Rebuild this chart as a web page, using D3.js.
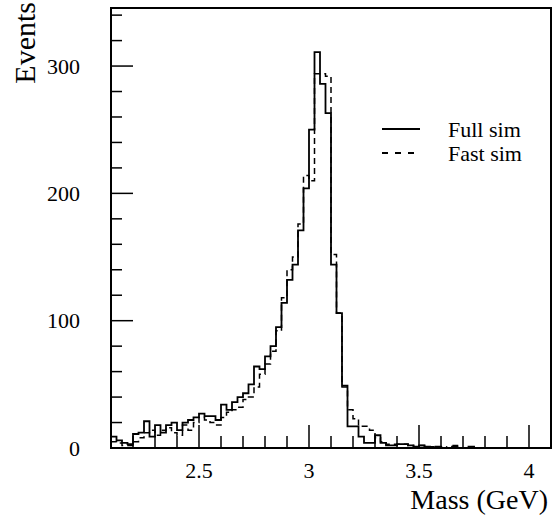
<!DOCTYPE html>
<html>
<head>
<meta charset="utf-8">
<script src="https://cdn.jsdelivr.net/npm/d3@7"></script>
<style>
  body { margin: 0; background: #fff; }
  text { font-family: "Liberation Serif", "Times New Roman", serif; fill: #000; }
</style>
</head>
<body>
<div id="chart"></div>
<script>
// histogram: 80 bins of 0.025 GeV from 2.1 to 4.1
var binStart = 2.1, binWidth = 0.025;

var fullSim = [9, 6, 4, 3, 11, 12, 21, 9, 18, 12,
               18, 20, 14, 20, 22, 24, 27, 25, 25, 22,
               34, 30, 36, 40, 43, 50, 64, 62, 72, 80,
               95, 114, 132, 144, 171, 204, 250, 311, 286, 263,
               144, 106, 49, 17, 17, 9, 4, 4, 10, 4,
               2, 2, 3, 3, 2, 1, 2, 1, 0, 1,
               0, 0, 1, 0, 0, 1, 0, 0, 0, 0,
               0, 0, 0, 0, 0, 0, 0, 0, 0, 0];

var fastSim = [5, 4, 2, 2, 5, 8, 12, 14, 10, 14,
               16, 12, 10, 18, 14, 20, 24, 22, 20, 18,
               24, 28, 30, 32, 38, 40, 48, 58, 66, 76,
               92, 118, 140, 150, 176, 214, 210, 294, 294, 292,
               152, 106, 48, 30, 23, 17, 17, 14, 8, 5,
               3, 3, 3, 3, 2, 1, 2, 1, 1, 0,
               1, 0, 2, 0, 0, 1, 0, 0, 0, 0,
               0, 0, 0, 0, 0, 0, 0, 0, 0, 0];

var xMajorTicks = [2.5, 3, 3.5, 4];
var xTickLabels = ["2.5", "3", "3.5", "4"];
var yMajorTicks = [0, 100, 200, 300];

var width = 558, height = 518;
var frame = {left: 111, right: 551, top: 8, bottom: 448};

var svg = d3.select('#chart').append('svg')
    .attr('width', width)
    .attr('height', height);

var x = d3.scaleLinear().domain([2.1, 4.1]).range([frame.left, frame.right]);
var y = d3.scaleLinear().domain([0, 345.6]).range([frame.bottom, frame.top]);

// minor ticks
var xMinor = d3.range(21).map(function(i) { return +(2.1 + i * 0.1).toFixed(2); });
var yMinor = d3.range(0, 341, 20);

var ticks = svg.append('g').attr('stroke', '#000').attr('stroke-width', 1.5);

ticks.selectAll('.xminor').data(xMinor).enter().append('line')
    .attr('x1', function(d) { return x(d); }).attr('x2', function(d) { return x(d); })
    .attr('y1', frame.bottom)
    .attr('y2', function(d) { return xMajorTicks.indexOf(d) >= 0 ? frame.bottom - 23 : frame.bottom - 12; });

ticks.selectAll('.yminor').data(yMinor).enter().append('line')
    .attr('y1', function(d) { return y(d); }).attr('y2', function(d) { return y(d); })
    .attr('x1', frame.left)
    .attr('x2', function(d) { return yMajorTicks.indexOf(d) >= 0 ? frame.left + 22 : frame.left + 11; });

// histograms
function edges(vals) {
    var pts = vals.map(function(v, i) { return [binStart + i * binWidth, v]; });
    pts.push([binStart + vals.length * binWidth, vals[vals.length - 1]]);
    return pts;
}
var line = d3.line()
    .x(function(d) { return x(d[0]); })
    .y(function(d) { return y(d[1]); })
    .curve(d3.curveStepAfter);

svg.append('path').datum(edges(fastSim))
    .attr('d', line)
    .attr('fill', 'none').attr('stroke', '#000').attr('stroke-width', 1.5)
    .attr('stroke-dasharray', '6,4');

svg.append('path').datum(edges(fullSim))
    .attr('d', line)
    .attr('fill', 'none').attr('stroke', '#000').attr('stroke-width', 1.8);

// frame
svg.append('rect')
    .attr('x', frame.left).attr('y', frame.top)
    .attr('width', frame.right - frame.left).attr('height', frame.bottom - frame.top)
    .attr('fill', 'none').attr('stroke', '#000').attr('stroke-width', 2);

// tick labels
svg.selectAll('.xlab').data(xMajorTicks).enter().append('text')
    .attr('x', function(d) { return x(d); })
    .attr('y', 478)
    .attr('text-anchor', 'middle')
    .attr('font-size', 22)
    .text(function(d, i) { return xTickLabels[i]; });

svg.selectAll('.ylab').data(yMajorTicks).enter().append('text')
    .attr('x', 80)
    .attr('y', function(d) { return y(d); })
    .attr('dy', '0.35em')
    .attr('text-anchor', 'end')
    .attr('font-size', 22)
    .text(function(d) { return d; });

// axis titles
svg.append('text')
    .attr('x', 548).attr('y', 509)
    .attr('text-anchor', 'end')
    .attr('font-size', 28)
    .text('Mass (GeV)');

svg.append('text')
    .attr('transform', 'translate(35,2) rotate(-90)')
    .attr('text-anchor', 'end')
    .attr('font-size', 30)
    .text('Events');

// legend
var legend = svg.append('g');
legend.append('line').attr('x1', 382).attr('x2', 420).attr('y1', 129).attr('y2', 129)
    .attr('stroke', '#000').attr('stroke-width', 2);
legend.append('line').attr('x1', 382).attr('x2', 420).attr('y1', 153).attr('y2', 153)
    .attr('stroke', '#000').attr('stroke-width', 2).attr('stroke-dasharray', '6,7');
legend.append('text').attr('x', 448).attr('y', 137).attr('font-size', 22).text('Full sim');
legend.append('text').attr('x', 448).attr('y', 161).attr('font-size', 22).text('Fast sim');
</script>
</body>
</html>
